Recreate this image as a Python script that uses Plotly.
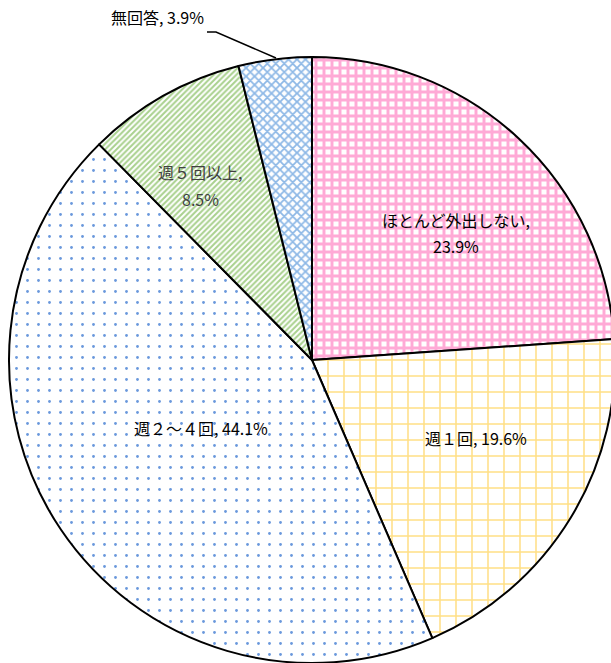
import plotly.graph_objects as go

labels = ["ほとんど外出しない", "週１回", "週２～４回", "週５回以上", "無回答"]
values = [23.9, 19.6, 44.1, 8.5, 3.9]

fg_colors = ["#FFAAD6", "#FFDF85", "#6A98DC", "#A9D18E", "#8DB8E6"]
shapes = ["+", "+", ".", "/", "x"]
sizes = [8, 16, 11, 4, 6]
solidity = [0.6, 0.18, 0.05, 0.5, 0.5]

fig = go.Figure(go.Pie(
    labels=labels,
    values=values,
    sort=False,
    direction="clockwise",
    rotation=0,
    textinfo="none",
    hoverinfo="label+percent",
    showlegend=False,
    marker=dict(
        colors=["white"] * 5,
        line=dict(color="black", width=2),
        pattern=dict(shape=shapes, fgcolor=fg_colors, bgcolor="white",
                     size=sizes, solidity=solidity, fillmode="replace"),
    ),
))

# body margin is removed below, so screen pixels map straight onto the figure
L, R, T, B = 9, 0, 57, 0
W, H = 615, 663
PW, PH = W - L - R, H - T - B


def px(sx):
    return (sx - L) / PW


def py(sy):
    return 1 - (sy - T) / PH


font = dict(family="Noto Sans CJK JP", size=16, color="black")
# (text, x, y, color)
ann = [
    (labels[0] + ",", 456, 220, "black"),
    (f"{values[0]}%", 456, 246, "black"),
    (f"{labels[1]}, {values[1]}%", 476, 438, "black"),
    (f"{labels[2]}, {values[2]}%", 201, 428, "black"),
    (labels[3] + ",", 200, 172, "#404040"),
    (f"{values[3]}%", 200, 199, "#404040"),
    (f"{labels[4]}, {values[4]}%", 157, 17, "black"),
]
for t, sx, sy, c in ann:
    f = dict(font)
    f["color"] = c
    fig.add_annotation(x=px(sx), y=py(sy), xref="paper", yref="paper",
                       text=t, showarrow=False, font=f, align="center",
                       xanchor="center", yanchor="middle")

# leader line for 無回答
fig.add_shape(type="path", xref="paper", yref="paper",
              path=f"M {px(207)},{py(32)} L {px(216)},{py(32)} L {px(276)},{py(58)}",
              line=dict(color="black", width=1.5))

fig.update_layout(
    width=W, height=H,
    margin=dict(l=L, r=R, t=T, b=B),
    paper_bgcolor="white",
)
fig.write_html("out.html", config={"displayModeBar": False},
               post_script="document.body.style.margin='0';document.body.style.overflow='hidden';")
